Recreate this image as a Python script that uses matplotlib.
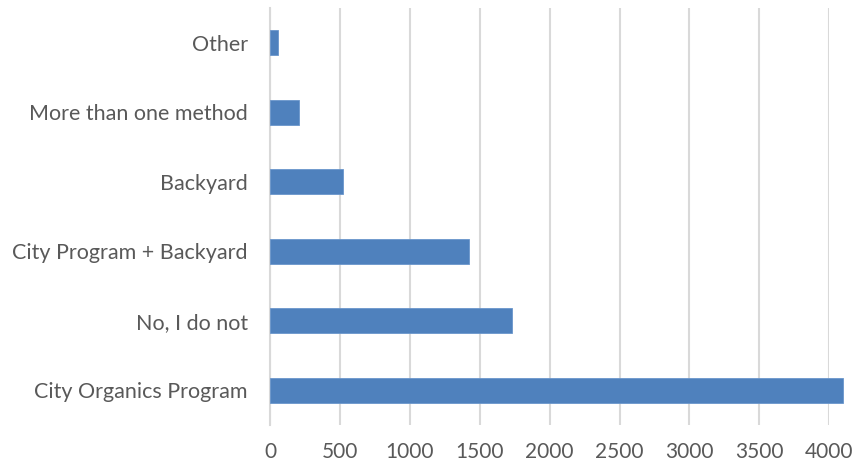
import matplotlib
matplotlib.use("Agg")
import matplotlib.pyplot as plt

categories = ["City Organics Program", "No, I do not", "City Program + Backyard",
              "Backyard", "More than one method", "Other"]
values = [4100, 1729, 1426, 524, 205, 59]
xticks = [0, 500, 1000, 1500, 2000, 2500, 3000, 3500, 4000]

plt.rcParams['font.family'] = ['Lato', 'DejaVu Sans']

fig = plt.figure(figsize=(8.54, 4.68), dpi=100)
ax = fig.add_axes([270/854, 1-425/468, (829.3-270)/854, (425-8)/468])

ypos = list(range(len(categories)))
ax.barh(ypos, values, height=0.355, color="#4f81bd", edgecolor="#6a96cc",
        linewidth=0.6, zorder=3, clip_on=False)

ax.set_xlim(0, 4000)
ax.set_ylim(-0.5, len(categories) - 0.5)
ax.set_xticks(xticks)
ax.set_xticklabels([str(t) for t in xticks])
ax.set_yticks(ypos)
ax.set_yticklabels(categories)

ax.grid(axis="x", color="#d9d9d9", linewidth=1.5, zorder=0)
for s in ["top", "right", "bottom"]:
    ax.spines[s].set_visible(False)
ax.spines["left"].set_color("#d9d9d9")
ax.spines["left"].set_linewidth(1.5)

ax.tick_params(axis="both", length=0, colors="#595959")
ax.tick_params(axis="y", pad=16, labelsize=15.5)
ax.tick_params(axis="x", pad=12, labelsize=15)

fig.savefig("out.png", dpi=100)
